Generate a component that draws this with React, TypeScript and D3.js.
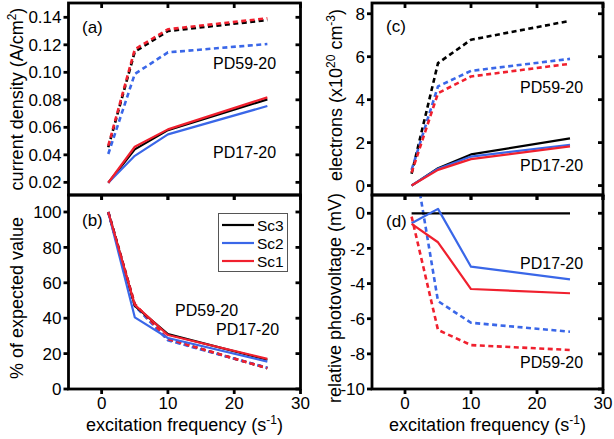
import React from 'react';
import * as d3 from 'd3';

const W = 614;
const H = 439;

// excitation frequency (s^-1)
const freq = [1, 5, 10, 25];

// (a) current density (A/cm2)
const aSc3PD17 = [0.0197, 0.044, 0.058, 0.0803];
const aSc2PD17 = [0.0197, 0.0393, 0.0549, 0.0755];
const aSc1PD17 = [0.0197, 0.0459, 0.0585, 0.0818];
const aSc3PD59 = [0.0455, 0.115, 0.130, 0.138];
const aSc2PD59 = [0.0406, 0.0988, 0.1145, 0.1206];
const aSc1PD59 = [0.0466, 0.1167, 0.1313, 0.1393];

// (b) % of expected value
const bSc3PD17 = [100, 47, 31, 16.5];
const bSc2PD17 = [100, 40.5, 28.8, 15.5];
const bSc1PD17 = [100, 47.5, 30.5, 17];
const bSc3PD59 = [100, 47.5, 28, 11.8];
const bSc2PD59 = [100, 47, 27.5, 12];
const bSc1PD59 = [100, 48, 28.2, 11.7];

// (c) electrons (x10^20 cm^-3)
const cSc3PD17 = [0, 0.81, 1.45, 2.2];
const cSc2PD17 = [0, 0.78, 1.35, 1.9];
const cSc1PD17 = [0, 0.73, 1.23, 1.82];
const cSc3PD59 = [0.55, 5.7, 6.79, 7.67];
const cSc2PD59 = [0.73, 4.62, 5.34, 5.9];
const cSc1PD59 = [0.6, 4.3, 5.08, 5.67];

// (d) relative photovoltage (mV)
const dSc3PD17 = [0, 0, 0, 0];
const dSc2PD17 = [-0.57, 0.25, -3.04, -3.76];
const dSc1PD17 = [-0.6, -1.65, -4.31, -4.55];
const dSc2PD59 = [4.0, -5.0, -6.23, -6.74];
const dSc1PD59 = [-0.19, -6.64, -7.5, -7.78];

const xTicks = [0, 10, 20, 30];
const aTicks = [0.02, 0.04, 0.06, 0.08, 0.1, 0.12, 0.14];
const bTicks = [0, 20, 40, 60, 80, 100];
const cTicks = [0, 2, 4, 6, 8];
const dTicks = [-10, -8, -6, -4, -2, 0];

const legendNames = ['Sc3', 'Sc2', 'Sc1'];

const COL: Record<string, string> = { Sc3: '#000000', Sc2: '#3a67e8', Sc1: '#f0202e' };
const FONT = '"Liberation Sans", Arial, Helvetica, sans-serif';

type Series = { values: number[]; name: string; dashed: boolean };

type PanelProps = {
  id: string;
  x0: number; x1: number; y0: number; y1: number;
  yDomain: [number, number];
  yTicks: number[];
  fmt: (v: number) => string;
  showXLabels: boolean;
  series: Series[];
};

function Panel(p: PanelProps) {
  const x = d3.scaleLinear().domain([-5, 30]).range([p.x0, p.x1]);
  const y = d3.scaleLinear().domain(p.yDomain).range([p.y1, p.y0]);
  const line = d3.line<number>().x((_, i) => x(freq[i])).y((v) => y(v));
  const TL = 5;
  return (
    <g>
      <defs>
        <clipPath id={p.id}>
          <rect x={p.x0} y={p.y0} width={p.x1 - p.x0} height={p.y1 - p.y0} />
        </clipPath>
      </defs>
      <g clipPath={`url(#${p.id})`}>
        {p.series.map((s, i) => (
          <path key={i} d={line(s.values) || ''} fill="none" stroke={COL[s.name]}
            strokeWidth={s.dashed ? 2.6 : 2.2}
            strokeDasharray={s.dashed ? '5,3.5' : undefined}
            strokeLinejoin="round" />
        ))}
      </g>
      <rect x={p.x0} y={p.y0} width={p.x1 - p.x0} height={p.y1 - p.y0} fill="none" stroke="#000" strokeWidth={2.8} />
      {p.yTicks.map((t) => (
        <g key={'y' + t}>
          <line x1={p.x0 - TL} x2={p.x0} y1={y(t)} y2={y(t)} stroke="#000" strokeWidth={2.8} />
          <line x1={p.x1 - TL} x2={p.x1} y1={y(t)} y2={y(t)} stroke="#000" strokeWidth={2.8} />
          <text x={p.x0 - 7} y={y(t)} dy="0.36em" textAnchor="end" fontSize={17} fontFamily={FONT}>{p.fmt(t)}</text>
        </g>
      ))}
      {xTicks.map((t) => (
        <g key={'x' + t}>
          <line x1={x(t)} x2={x(t)} y1={p.y0} y2={p.y0 + TL} stroke="#000" strokeWidth={2.8} />
          <line x1={x(t)} x2={x(t)} y1={p.y1} y2={p.y1 + TL} stroke="#000" strokeWidth={2.8} />
          {p.showXLabels && (
            <text x={x(t)} y={p.y1 + 20} textAnchor="middle" fontSize={17} fontFamily={FONT}>{t}</text>
          )}
        </g>
      ))}
    </g>
  );
}

function mk(s3: number[] | null, s2: number[], s1: number[], dashed: boolean): Series[] {
  const out: Series[] = [];
  if (s3) out.push({ values: s3, name: 'Sc3', dashed });
  out.push({ values: s2, name: 'Sc2', dashed });
  out.push({ values: s1, name: 'Sc1', dashed });
  return out;
}

const T = (props: any) => <text fontFamily={FONT} fontSize={16} {...props} />;

export default function App() {
  const L = { x0: 68.5, x1: 300.5 };
  const R = { x0: 372, x1: 603 };
  const top = { y0: 3, y1: 195 };
  const bot = { y0: 195, y1: 389 };
  const f2 = (v: number) => v.toFixed(2);
  const f0 = (v: number) => String(v);
  return (
    <svg width={W} height={H} style={{ position: 'absolute', left: 0, top: 0, background: '#fff' }}>
      <Panel id="ca" {...L} {...top} yDomain={[0.0108, 0.1504]} yTicks={aTicks} fmt={f2} showXLabels={false}
        series={[...mk(aSc3PD59, aSc2PD59, aSc1PD59, true), ...mk(aSc3PD17, aSc2PD17, aSc1PD17, false)]} />
      <Panel id="cb" {...L} {...bot} yDomain={[0, 109.6]} yTicks={bTicks} fmt={f0} showXLabels={true}
        series={[...mk(bSc3PD59, bSc2PD59, bSc1PD59, true), ...mk(bSc3PD17, bSc2PD17, bSc1PD17, false)]} />
      <Panel id="cc" {...R} {...top} yDomain={[-0.44, 8.5]} yTicks={cTicks} fmt={f0} showXLabels={false}
        series={[...mk(cSc3PD59, cSc2PD59, cSc1PD59, true), ...mk(cSc3PD17, cSc2PD17, cSc1PD17, false)]} />
      <Panel id="cd" {...R} {...bot} yDomain={[-10, 1.04]} yTicks={dTicks} fmt={f0} showXLabels={true}
        series={[...mk(null, dSc2PD59, dSc1PD59, true), ...mk(dSc3PD17, dSc2PD17, dSc1PD17, false)]} />

      {/* panel labels & annotations */}
      <T x={82} y={33} fontSize={17}>(a)</T>
      <T x={213} y={69}>PD59-20</T>
      <T x={213} y={158}>PD17-20</T>
      <T x={82} y={226} fontSize={17}>(b)</T>
      <T x={175} y={316}>PD59-20</T>
      <T x={216} y={335}>PD17-20</T>
      <T x={386} y={32} fontSize={17}>(c)</T>
      <T x={520} y={93}>PD59-20</T>
      <T x={520} y={171}>PD17-20</T>
      <T x={386} y={227} fontSize={17}>(d)</T>
      <T x={520} y={269}>PD17-20</T>
      <T x={520} y={368}>PD59-20</T>

      {/* legend */}
      <rect x={218.5} y={213.5} width={69} height={58} fill="#fff" stroke="#555" strokeWidth={1} />
      {legendNames.map((n, i) => (
        <g key={n}>
          <line x1={222} x2={254} y1={225 + i * 18} y2={225 + i * 18} stroke={COL[n]} strokeWidth={2.2} />
          <T x={257} y={225 + i * 18} dy="0.36em" fontSize={15.5}>{n}</T>
        </g>
      ))}

      {/* axis titles */}
      <text transform="translate(23,99) rotate(-90)" textAnchor="middle" fontSize={18} fontFamily={FONT}>
        current density (A/cm<tspan dy={-7} fontSize={12}>2</tspan><tspan dy={7}>)</tspan>
      </text>
      <text transform="translate(23,298) rotate(-90)" textAnchor="middle" fontSize={18} fontFamily={FONT}>
        % of expected value
      </text>
      <text transform="translate(342,95) rotate(-90)" textAnchor="middle" fontSize={18} fontFamily={FONT}>
        electrons (x10<tspan dy={-7} fontSize={12}>20</tspan><tspan dy={7}> cm</tspan><tspan dy={-7} fontSize={12}>-3</tspan><tspan dy={7}>)</tspan>
      </text>
      <text transform="translate(341,298) rotate(-90)" textAnchor="middle" fontSize={18} fontFamily={FONT}>
        relative photovoltage (mV)
      </text>
      <text x={184.5} y={431} textAnchor="middle" fontSize={18} fontFamily={FONT}>
        excitation frequency (s<tspan dy={-7} fontSize={12}>-1</tspan><tspan dy={7}>)</tspan>
      </text>
      <text x={487.5} y={431} textAnchor="middle" fontSize={18} fontFamily={FONT}>
        excitation frequency (s<tspan dy={-7} fontSize={12}>-1</tspan><tspan dy={7}>)</tspan>
      </text>
    </svg>
  );
}
